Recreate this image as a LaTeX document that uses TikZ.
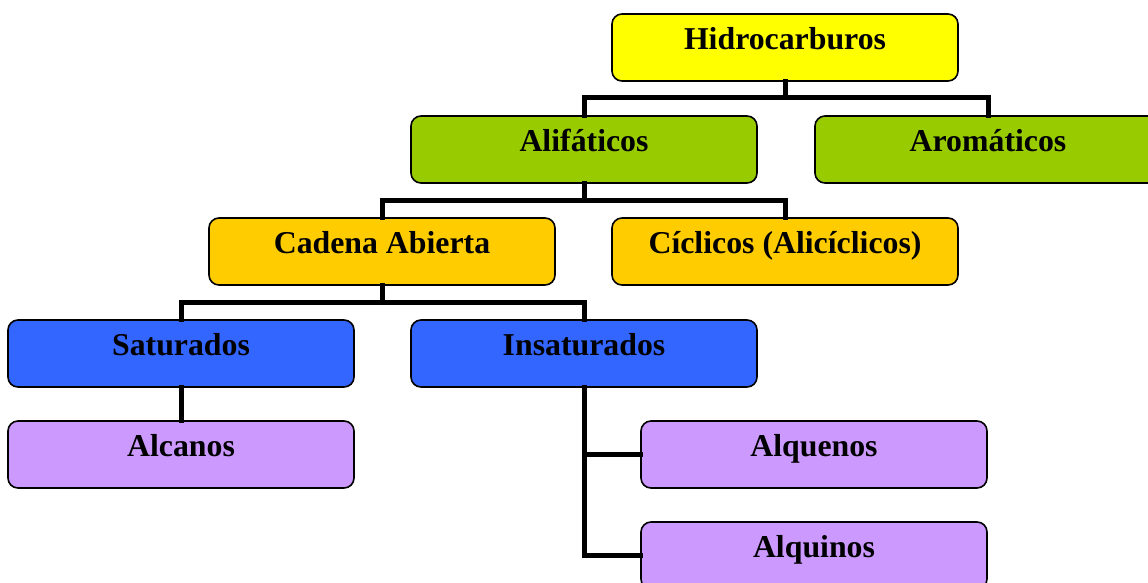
\documentclass[tikz,border=0pt]{standalone}
\usepackage{fontspec}
\setmainfont{Liberation Serif}
\usepackage{tikz}
\usetikzlibrary{positioning}

\definecolor{hidro}{HTML}{FFFF00}
\definecolor{alif}{HTML}{99CC00}
\definecolor{cadena}{HTML}{FFCC00}
\definecolor{satur}{HTML}{3366FF}
\definecolor{alca}{HTML}{CC99FF}

\tikzset{
  caja/.style={draw=black, line width=1.6pt, rounded corners=10pt,
    minimum width=346pt, inner sep=0pt, text height=35pt, text depth=32pt,
    font=\fontsize{31.8}{36}\selectfont\bfseries},
  rama/.style={line width=5pt, line cap=rect}
}

\begin{document}
\begin{tikzpicture}[x=1pt, y=-1pt]
  \useasboundingbox (0,0) rectangle (1148,582);
  \clip (0,0) rectangle (1148,582);
  % cajas
  \node[caja, fill=hidro]  (hid)  at (785,47.5)  {Hidrocarburos};
  \node[caja, fill=alif]   (ali)  at (584,149.5) {Alifáticos};
  \node[caja, fill=alif]   (aro)  at (988,149.5) {Aromáticos};
  \node[caja, fill=cadena] (cad)  at (382,251.5) {Cadena Abierta};
  \node[caja, fill=cadena] (cic)  at (785,251.5) {Cíclicos (Alicíclicos)};
  \node[caja, fill=satur]  (sat)  at (181,353.5) {Saturados};
  \node[caja, fill=satur]  (ins)  at (584,353.5) {Insaturados};
  \node[caja, fill=alca]   (alc)  at (181,454.5) {Alcanos};
  \node[caja, fill=alca]   (alqe) at (814,454.5) {Alquenos};
  \node[caja, fill=alca]   (alqi) at (814,555.5) {Alquinos};
  % ramas
  \draw[rama] (hid.south) -- ++(0,16) coordinate (j1);
  \draw[rama] (j1) -| (ali.north);
  \draw[rama] (j1) -| (aro.north);
  \draw[rama] (ali.south) -- ++(0,17) coordinate (j2);
  \draw[rama] (j2) -| (cad.north);
  \draw[rama] (j2) -| (cic.north);
  \draw[rama] (cad.south) -- ++(0,17) coordinate (j3);
  \draw[rama] (j3) -| (sat.north);
  \draw[rama] (j3) -| (ins.north);
  \draw[rama] (sat.south) -- (alc.north);
  \draw[rama] (ins.south) |- (alqe.west);
  \draw[rama] (ins.south) |- (alqi.west);
\end{tikzpicture}
\end{document}
